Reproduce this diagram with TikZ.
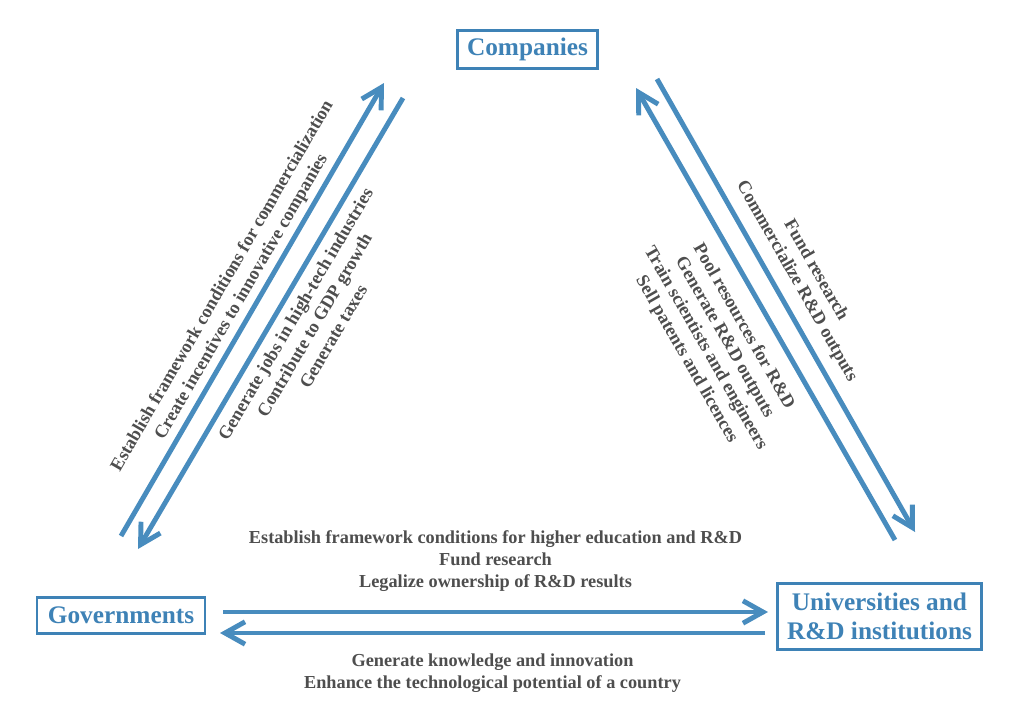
\documentclass[tikz,border=0pt]{standalone}
\usepackage{fontspec}
\setmainfont{Liberation Serif}
\usepackage{xcolor}
\usetikzlibrary{arrows.meta,positioning}

\definecolor{boxblue}{RGB}{62,130,182}
\definecolor{arrblue}{RGB}{72,140,190}
\definecolor{txtgray}{RGB}{78,78,78}

\begin{document}
\begin{tikzpicture}[x=0.025cm,y=-0.025cm,
  box/.style={draw=boxblue,line width=2.1pt,text=boxblue,align=center,
    font=\fontsize{18}{20.5}\selectfont\bfseries,inner xsep=5pt,inner ysep=3pt},
  arr/.style={-{Straight Barb[length=5mm,width=5.6mm]},line width=3.5pt,draw=arrblue},
  lbl/.style={text=txtgray,align=center,font=\fontsize{13}{15.6}\selectfont\bfseries}]
\useasboundingbox[fill=white] (0,0) rectangle (1022,711);

% actors
\node[box,minimum width=3.48cm,minimum height=0.93cm] (comp) at (527.5,49.5) {Companies};
\node[box,minimum width=4.2cm,minimum height=0.88cm] (gov) at (121,615.5) {Governments};
\node[box,minimum width=5.12cm,minimum height=1.67cm] (uni) at (879.5,616.5) {Universities and\\R\&D institutions};

% arrow ends
\coordinate (gc-s) at (121,536);  \coordinate (gc-e) at (384,83);
\coordinate (cg-s) at (403,98);   \coordinate (cg-e) at (138,549);
\coordinate (uc-s) at (895,540);  \coordinate (uc-e) at (636,88);
\coordinate (cu-s) at (657,79);   \coordinate (cu-e) at (915,532);
\coordinate (gu-s) at (223,612);  \coordinate (gu-e) at (768,612);
\coordinate (ug-s) at (765,633);  \coordinate (ug-e) at (220,633);

% governments <-> companies
\draw[arr] (gc-s) -- node[lbl,sloped,above=0pt,pos=0.51]
  {Establish framework conditions for commercialization\\Create incentives to innovative companies} (gc-e);
\draw[arr] (cg-s) -- node[lbl,sloped,below=2pt,pos=0.46]
  {Generate jobs in high-tech industries\\Contribute to GDP growth\\Generate taxes} (cg-e);

% universities <-> companies
\draw[arr] (uc-s) -- node[lbl,sloped,below=7pt,pos=0.5]
  {Pool resources for R\&D\\Generate R\&D outputs\\Train scientists and engineers\\Sell patents and licences} (uc-e);
\draw[arr] (cu-s) -- node[lbl,sloped,above=4pt,pos=0.47]
  {Fund research\\Commercialize R\&D outputs} (cu-e);

% governments <-> universities
\draw[arr] (gu-s) -- node[lbl,above=9.5pt]
  {Establish framework conditions for higher education and R\&D\\Fund research\\Legalize ownership of R\&D results} (gu-e);
\draw[arr] (ug-s) -- node[lbl,below=10pt]
  {Generate knowledge and innovation\\Enhance the technological potential of a country} (ug-e);
\end{tikzpicture}
\end{document}
